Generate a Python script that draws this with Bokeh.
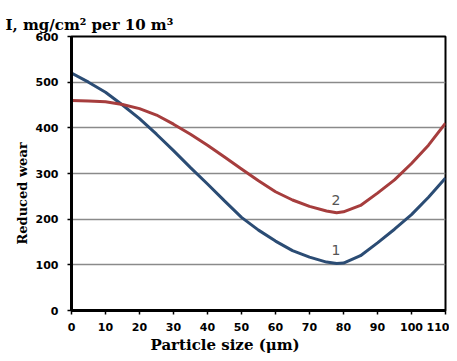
from bokeh.plotting import figure
from bokeh.models import Range1d, Label, FixedTicker, Title
from bokeh.embed import file_html
from bokeh.resources import INLINE

# particle size (µm)
sizes = [0, 5, 10, 15, 20, 25, 30, 35, 40, 45, 50, 55, 60, 65, 70, 75, 78, 80, 85, 90, 95, 100, 105, 110]
# curve 1 (blue)
wear1 = [520, 500, 478, 450, 420, 386, 350, 313, 277, 240, 204, 176, 152, 131, 117, 106, 103, 104, 120, 148, 178, 210, 248, 290]
# curve 2 (red)
wear2 = [460, 459, 457, 451, 442, 428, 408, 386, 362, 336, 310, 284, 260, 242, 228, 218, 214, 216, 230, 257, 286, 322, 362, 410]

x_ticks = [0, 10, 20, 30, 40, 50, 60, 70, 80, 90, 100, 110]
y_ticks = [0, 100, 200, 300, 400, 500, 600]

title_text = "I, mg/cm\u00b2 per 10 m\u00b3"
x_title = "Particle size (\u03bcm)"
y_title = "Reduced wear"

p = figure(width=449, height=353, output_backend="svg", toolbar_location=None,
           x_range=Range1d(0, 110), y_range=Range1d(0, 600))
p.min_border_left = 71
p.min_border_right = 4
p.min_border_top = 36
p.min_border_bottom = 42
p.background_fill_color = "white"
p.border_fill_color = "white"
p.outline_line_color = "black"
p.outline_line_width = 2

p.line(sizes, wear1, line_color="#2b4c74", line_width=3)
p.line(sizes, wear2, line_color="#a63d3d", line_width=3)

for ax in (p.xaxis[0], p.yaxis[0]):
    ax.axis_line_color = "black"
    ax.axis_line_width = 3
    ax.major_tick_line_color = "black"
    ax.major_tick_line_width = 1.5
    ax.major_tick_out = 4
    ax.major_tick_in = 0
    ax.minor_tick_line_color = None
    ax.major_label_text_font = "DejaVu Sans"
    ax.major_label_text_font_style = "bold"
    ax.major_label_text_font_size = "11px"
    ax.major_label_text_color = "black"

p.xaxis[0].ticker = FixedTicker(ticks=x_ticks)
p.yaxis[0].ticker = FixedTicker(ticks=y_ticks)
p.xaxis[0].major_label_standoff = 8
p.yaxis[0].major_label_standoff = 9

p.xgrid.grid_line_color = None
p.ygrid.grid_line_color = "#8a8a8a"
p.ygrid.grid_line_width = 1.5

# curve numbers
p.add_layout(Label(x=77.8, y=133, text="1", text_align="center", text_baseline="middle",
                   text_font="DejaVu Sans", text_font_size="14px", text_color="#555555"))
p.add_layout(Label(x=77.8, y=242, text="2", text_align="center", text_baseline="middle",
                   text_font="DejaVu Sans", text_font_size="14px", text_color="#555555"))

# titles
p.add_layout(Title(text=title_text, align="left", offset=-66, standoff=6,
                   text_font="DejaVu Serif", text_font_style="bold", text_font_size="15px",
                   text_color="black"), "above")
p.add_layout(Title(text=x_title, align="left", offset=79, standoff=0,
                   text_font="DejaVu Serif", text_font_style="bold", text_font_size="15px",
                   text_color="black"), "below")
p.add_layout(Title(text=y_title, align="left", offset=66, standoff=6,
                   text_font="DejaVu Serif", text_font_style="bold", text_font_size="13px",
                   text_color="black"), "left")

open("out.html", "w").write(file_html(p, INLINE))
